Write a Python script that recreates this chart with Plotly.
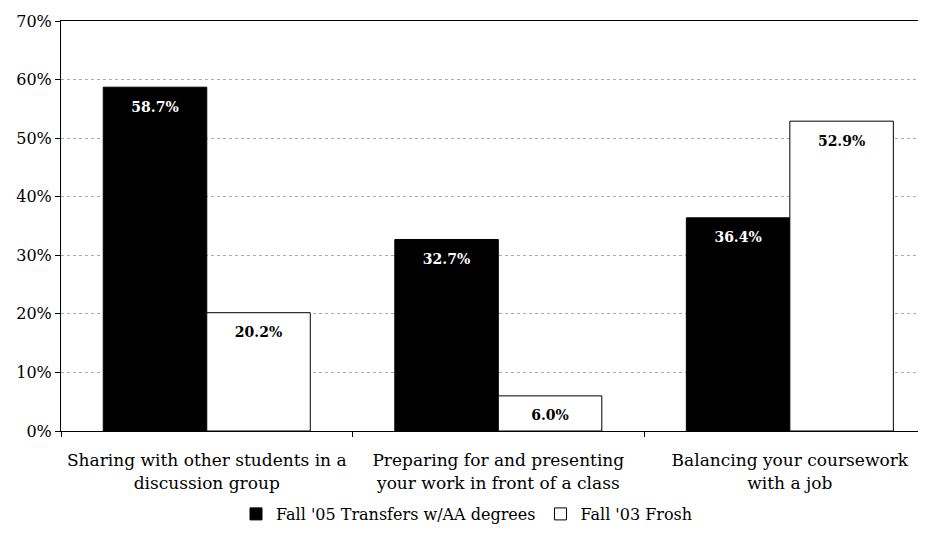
import plotly.graph_objects as go

categories = ["Sharing with other students in a<br>discussion group",
              "Preparing for and presenting<br>your work in front of a class",
              "Balancing your coursework<br>with a job"]
transfers = [58.7, 32.7, 36.4]
frosh = [20.2, 6.0, 52.9]
series_names = ["Fall '05 Transfers w/AA degrees", "Fall '03 Frosh"]
y_ticks = [0, 10, 20, 30, 40, 50, 60, 70]
y_tick_labels = [f"{v}%" for v in y_ticks]

font_family = "DejaVu Serif, Liberation Serif, serif"
GAP = 0.29

fig = go.Figure()
for vals, name, fill in [(transfers, series_names[0], "black"),
                         (frosh, series_names[1], "white")]:
    fig.add_trace(go.Bar(
        x=categories, y=vals, name=name,
        marker=dict(color=fill, line=dict(color="black", width=1)),
        hoverinfo="skip",
    ))
for vals, txtcol in [(transfers, "white"), (frosh, "black")]:
    fig.add_trace(go.Scatter(
        x=categories, y=vals, mode="markers+text", showlegend=False,
        text=[f"<b>{v:.1f}%</b>" for v in vals], textposition="bottom center",
        marker=dict(size=21, color="rgba(0,0,0,0)"),
        textfont=dict(color=txtcol, size=14, family=font_family),
        hoverinfo="skip", cliponaxis=False,
    ))

# page body has an 8px margin, so the figure is sized to fill the rest of the window
fig.update_layout(
    width=918, height=530,
    margin=dict(l=53, r=0, t=13, b=107, autoexpand=False),
    paper_bgcolor="white", plot_bgcolor="white",
    barmode="group", bargap=GAP, bargroupgap=0,
    scattermode="group", scattergap=GAP,
    font=dict(family=font_family, size=15, color="black"),
    showlegend=True,
    legend=dict(orientation="h", x=0.5, xanchor="center", xref="container",
                y=1 - 506 / 530, yref="container", yanchor="middle",
                font=dict(size=16, color="black"),
                itemwidth=30, tracegroupgap=0, traceorder="normal"),
)
fig.update_xaxes(
    range=[-0.5, 2.467], showline=True, linecolor="black", linewidth=1,
    mirror=True, ticks="outside", tickson="boundaries", ticklen=5,
    tickcolor="black", showgrid=False, automargin=False,
    ticklabelstandoff=14,
    tickfont=dict(size=17, family=font_family, color="black"),
)
fig.update_yaxes(
    range=[0, 70], tickvals=y_ticks, ticktext=y_tick_labels,
    showline=True, linecolor="black", linewidth=1,
    ticks="outside", ticklen=5, tickcolor="black",
    showgrid=True, gridcolor="#aaaaaa", griddash="dot", gridwidth=1,
    tickfont=dict(size=16, family=font_family, color="black"),
    zeroline=False, automargin=False,
)

fig.write_html("out.html")
